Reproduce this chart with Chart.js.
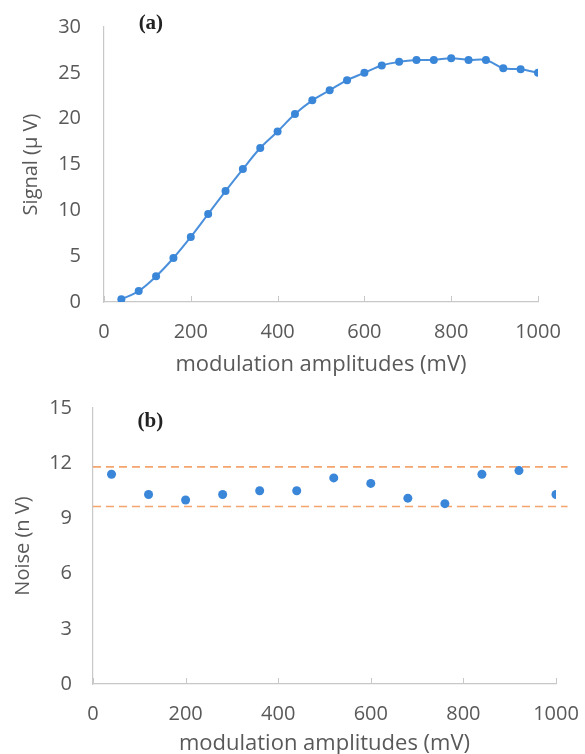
<!DOCTYPE html>
<html>
<head>
<meta charset="utf-8">
<script src="https://cdn.jsdelivr.net/npm/chart.js@4.4.1/dist/chart.umd.min.js"></script>
<style>
    html, body { margin: 0; padding: 0; background: #fff; }
    .box { position: relative; width: 585px; }
    #boxA { height: 380px; }
    #boxB { height: 374px; }
</style>
</head>
<body>
<div class="box" id="boxA"><canvas id="chartA"></canvas></div>
<div class="box" id="boxB"><canvas id="chartB"></canvas></div>
<script>
// ---- données (a) : signal ----
const signalX = [40, 80, 120, 160, 200, 240, 280, 320, 360, 400, 440, 480, 520,
                 560, 600, 640, 680, 720, 760, 800, 840, 880, 920, 960, 1000];
const signalY = [0.3, 1.2, 2.8, 4.8, 7.1, 9.6, 12.1, 14.5, 16.8, 18.6, 20.5, 22.0, 23.1,
                 24.2, 25.0, 25.8, 26.2, 26.4, 26.4, 26.6, 26.4, 26.4, 25.5, 25.4, 25.0];

// ---- données (b) : bruit ----
const noiseX = [40, 120, 200, 280, 360, 440, 520, 600, 680, 760, 840, 920, 1000];
const noiseY = [11.4, 10.3, 10.0, 10.3, 10.5, 10.5, 11.2, 10.9, 10.1, 9.8, 11.4, 11.6, 10.3];

// bornes en pointillés
const boundX = [0, 1025];
const upperBound = 11.8;
const lowerBound = 9.65;

const FONT = "'Open Sans', 'Noto Sans', sans-serif";
const GREY_TEXT = "#595959";
const AXIS_GREY = "#c8c8c8";
const BLUE = "#3a86d8";
const ORANGE = "#f4a46c";

// petit plugin pour le repère "(a)" / "(b)"
const panelLabel = {
    id: "panelLabel",
    afterDraw(chart, args, opts) {
        const { ctx } = chart;
        const x = chart.scales.x.getPixelForValue(opts.xVal);
        ctx.save();
        ctx.font = "bold 21px 'Liberation Serif', serif";
        ctx.fillStyle = "#222";
        ctx.textAlign = "center";
        ctx.textBaseline = "middle";
        ctx.fillText(opts.text, x, opts.y);
        ctx.restore();
    }
};

// petites graduations vers l'intérieur sur l'axe x
const innerTicks = {
    id: "innerTicks",
    afterDraw(chart) {
        const { ctx, chartArea } = chart;
        const xs = chart.scales.x;
        ctx.save();
        ctx.strokeStyle = AXIS_GREY;
        ctx.lineWidth = 1;
        xs.ticks.forEach(t => {
            const px = Math.round(xs.getPixelForValue(t.value)) + 0.5;
            ctx.beginPath();
            ctx.moveTo(px, chartArea.bottom);
            ctx.lineTo(px, chartArea.bottom - 6);
            ctx.stroke();
        });
        ctx.restore();
    }
};

// l'écart des étiquettes passe par tickLength (ticks.padding gonfle la marge auto)
function axisX(height, gap, titlePadBottom) {
    return {
        type: "linear",
        min: 0, max: 1000,
        grid: { display: false, drawTicks: true, tickLength: gap },
        border: { color: AXIS_GREY, width: 1.2 },
        ticks: {
            stepSize: 200, padding: 0, color: GREY_TEXT,
            font: { family: FONT, size: 20 },
            callback: v => String(v)
        },
        title: {
            display: true,
            text: "modulation amplitudes (mV)",
            color: GREY_TEXT,
            font: { family: FONT, size: 22 },
            padding: { top: 0, bottom: titlePadBottom }
        },
        afterFit(scale) { scale.height = height; }
    };
}

function axisY(label, max, step, width, gap, titlePad) {
    return {
        min: 0, max: max,
        grid: { display: false, drawTicks: true, tickLength: gap },
        border: { color: AXIS_GREY, width: 1.2 },
        ticks: {
            stepSize: step, padding: 0, color: GREY_TEXT,
            font: { family: FONT, size: 20 },
            callback: v => String(v)
        },
        title: {
            display: true,
            text: label,
            color: GREY_TEXT,
            font: { family: FONT, size: 20 },
            padding: { top: titlePad, bottom: 0 }
        },
        afterFit(scale) { scale.width = width; }
    };
}

// ============== (a) Signal ==============
new Chart(document.getElementById("chartA"), {
    type: "line",
    data: {
        datasets: [{
            data: signalX.map((x, i) => ({ x: x, y: signalY[i] })),
            borderColor: "#4a8fdc",
            backgroundColor: BLUE,
            borderWidth: 2,
            pointRadius: 4,
            pointBorderWidth: 0,
            tension: 0.35
        }]
    },
    options: {
        responsive: true,
        maintainAspectRatio: false,
        animation: false,
        layout: { padding: { top: 27, right: 47, bottom: 0, left: 0 } },
        plugins: {
            legend: { display: false },
            tooltip: { enabled: false },
            panelLabel: { text: "(a)", xVal: 108, y: 24 }
        },
        scales: {
            x: axisX(78, 18, 2),
            y: axisY("Signal (μ V)", 30, 5, 104, 23, 19)
        }
    },
    plugins: [panelLabel, innerTicks]
});

// ============== (b) Noise ==============
new Chart(document.getElementById("chartB"), {
    type: "scatter",
    data: {
        datasets: [
            {
                data: noiseX.map((x, i) => ({ x: x, y: noiseY[i] })),
                backgroundColor: BLUE,
                borderWidth: 0,
                pointRadius: 4.5
            },
            {
                type: "line",
                data: boundX.map(x => ({ x: x, y: upperBound })),
                borderColor: ORANGE,
                borderWidth: 1.6,
                borderDash: [8, 5],
                pointRadius: 0,
                clip: false
            },
            {
                type: "line",
                data: boundX.map(x => ({ x: x, y: lowerBound })),
                borderColor: ORANGE,
                borderWidth: 1.6,
                borderDash: [8, 5],
                pointRadius: 0,
                clip: false
            }
        ]
    },
    options: {
        responsive: true,
        maintainAspectRatio: false,
        animation: false,
        layout: { padding: { top: 28, right: 29, bottom: 0, left: 0 } },
        plugins: {
            legend: { display: false },
            tooltip: { enabled: false },
            panelLabel: { text: "(b)", xVal: 124, y: 42 }
        },
        scales: {
            x: axisX(70, 18, -3),
            y: axisY("Noise (n V)", 15, 3, 93, 21, 11)
        }
    },
    plugins: [panelLabel, innerTicks]
});
</script>
</body>
</html>
